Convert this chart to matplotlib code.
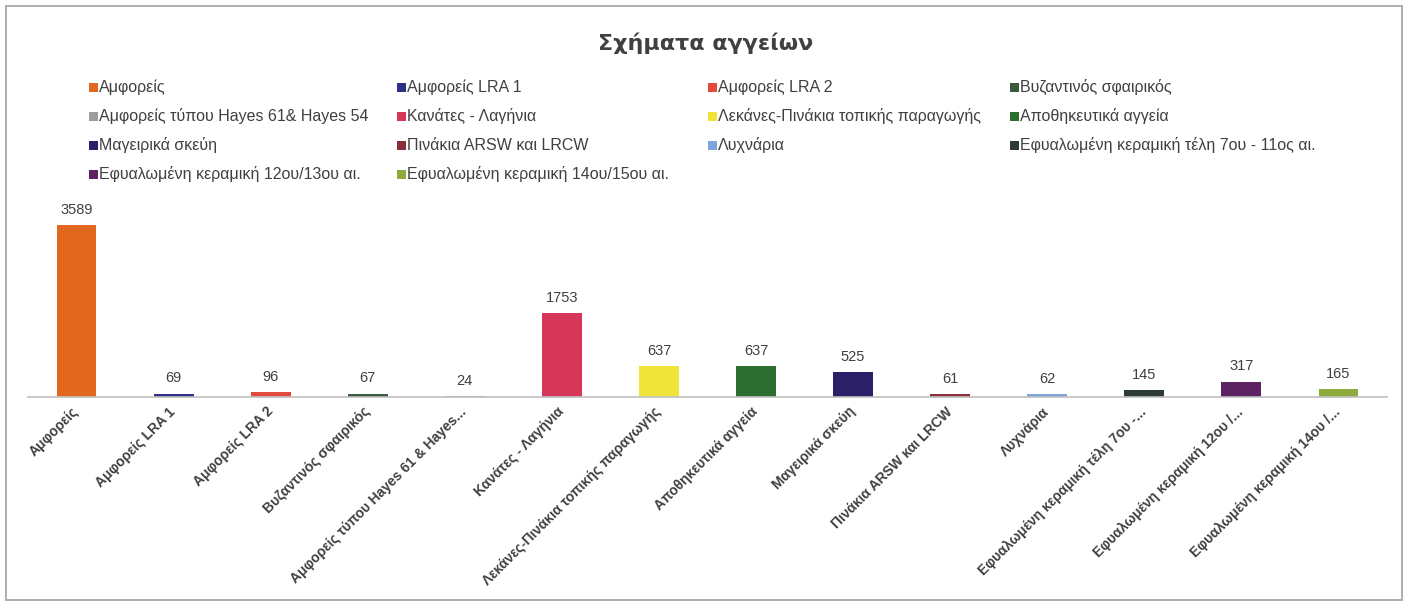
import matplotlib
matplotlib.use("Agg")

import matplotlib.pyplot as plt
from matplotlib.patches import Rectangle

# data
legend_labels = [
    "Αμφορείς", "Αμφορείς LRA 1", "Αμφορείς LRA 2", "Βυζαντινός σφαιρικός",
    "Αμφορείς τύπου Hayes 61& Hayes 54", "Κανάτες - Λαγήνια",
    "Λεκάνες-Πινάκια τοπικής παραγωγής", "Αποθηκευτικά αγγεία",
    "Μαγειρικά σκεύη", "Πινάκια ARSW και LRCW", "Λυχνάρια",
    "Εφυαλωμένη κεραμική τέλη 7ου - 11ος αι.",
    "Εφυαλωμένη κεραμική 12ου/13ου αι.", "Εφυαλωμένη κεραμική 14ου/15ου αι.",
]
tick_labels = [
    "Αμφορείς", "Αμφορείς LRA 1", "Αμφορείς LRA 2", "Βυζαντινός σφαιρικός",
    "Αμφορείς τύπου Hayes 61 & Hayes...", "Κανάτες - Λαγήνια",
    "Λεκάνες-Πινάκια τοπικής παραγωγής", "Αποθηκευτικά αγγεία",
    "Μαγειρικά σκεύη", "Πινάκια ARSW και LRCW", "Λυχνάρια",
    "Εφυαλωμένη κεραμική τέλη 7ου -...", "Εφυαλωμένη κεραμική 12ου /...",
    "Εφυαλωμένη κεραμική 14ου /...",
]
values = [3589, 69, 96, 67, 24, 1753, 637, 637, 525, 61, 62, 145, 317, 165]
colors = [
    "#E2671F", "#2E2F86", "#E4493D", "#3C5A3C", "#9C9C9C", "#D8355A", "#F0E43A",
    "#2B6E30", "#2B2068", "#8A2E3A", "#7FA6DC", "#2C3A38", "#5C2262", "#8DAA3C",
]

plt.rcParams["font.family"] = ["Liberation Sans", "DejaVu Sans"]
W, H = 1408, 606
text_col = "#404040"

fig = plt.figure(figsize=(W / 100, H / 100), dpi=100)

# frame round the whole chart
fig.add_artist(Rectangle((6 / W, 6 / H), (1402 - 6) / W, (600 - 6) / H,
                         transform=fig.transFigure, fill=False,
                         ec="#a8a8a8", lw=1.3))

fig.text(706 / W, 1 - 43 / H, "Σχήματα αγγείων", ha="center", va="center",
         fontsize=16, fontweight="bold", color=text_col,
         family=["DejaVu Sans"])

# legend drawn by hand, row-major in 4 fixed-width columns
col_x = [89, 397, 708, 1010]
row_y = [87, 116, 145, 174]
for i, (lab, c) in enumerate(zip(legend_labels, colors)):
    r, k = divmod(i, 4)
    x, y = col_x[k], row_y[r]
    fig.add_artist(Rectangle((x / W, 1 - (y + 4.5) / H), 9 / W, 9 / H,
                             transform=fig.transFigure, color=c, lw=0))
    fig.text((x + 10) / W, 1 - y / H, lab, va="center", ha="left",
             fontsize=11.5, color=text_col)

ax = fig.add_axes([28 / W, 1 - 397 / H, (1387 - 28) / W, (397 - 214) / H])
bars = ax.bar(range(len(values)), values, width=0.41, color=colors)
ax.bar_label(bars, padding=6, fontsize=10.5, color=text_col)
ax.set_xlim(-0.5, len(values) - 0.5)
ax.set_ylim(0, 3820)

ax.set_xticks(range(len(values)))
ax.set_xticklabels(tick_labels, rotation=45, ha="right", va="center",
                   rotation_mode="anchor", fontweight="bold", fontsize=10,
                   color=text_col)
ax.tick_params(axis="x", length=0, pad=9)
ax.set_yticks([])
for s in ["top", "left", "right"]:
    ax.spines[s].set_visible(False)
ax.spines["bottom"].set_color("#c0c0c0")
ax.spines["bottom"].set_linewidth(1.2)

plt.savefig("out.png", dpi=100)
